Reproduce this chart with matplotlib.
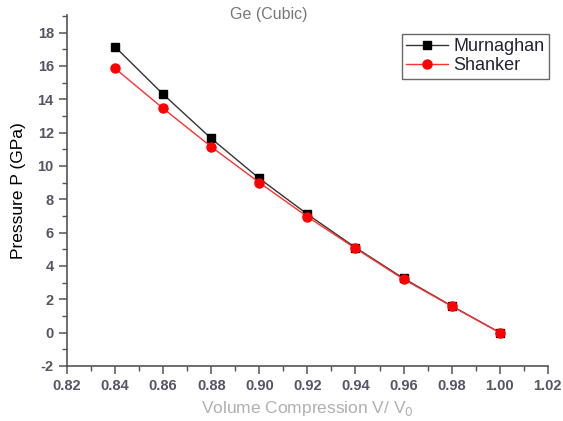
import matplotlib
matplotlib.use("Agg")
import matplotlib.pyplot as plt
from matplotlib.ticker import MultipleLocator

plt.rcParams['font.family'] = ['Liberation Sans', 'DejaVu Sans']
plt.rcParams['axes.unicode_minus'] = False

compression = [0.84, 0.86, 0.88, 0.90, 0.92, 0.94, 0.96, 0.98, 1.00]
murnaghan = [17.15, 14.3, 11.65, 9.25, 7.1, 5.1, 3.25, 1.6, 0.0]
shanker = [15.85, 13.45, 11.15, 9.0, 6.95, 5.05, 3.2, 1.58, 0.0]

fig = plt.figure(figsize=(5.63, 4.21), dpi=100)
ax = fig.add_axes([0.119, 0.131, 0.854, 0.833])

ax.plot(compression, murnaghan, color='#333333', lw=1.0, marker='s', ms=6.2,
        mfc='black', mec='black', label='Murnaghan')
ax.plot(compression, shanker, color='#ff3030', lw=1.0, marker='o', ms=6.5,
        mfc='red', mec='red', label='Shanker')

ax.set_xlim(0.82, 1.02)
ax.set_ylim(-2, 19.05)
ax.xaxis.set_major_locator(MultipleLocator(0.02))
ax.xaxis.set_minor_locator(MultipleLocator(0.01))
ax.yaxis.set_minor_locator(MultipleLocator(1))
ax.set_yticks(range(-2, 19, 2))
ax.xaxis.set_major_formatter(plt.FuncFormatter(lambda v, p: f"{v:.2f}"))

for s in ['top', 'right']:
    ax.spines[s].set_visible(False)
for s in ['left', 'bottom']:
    ax.spines[s].set_color('#555555')
    ax.spines[s].set_linewidth(1.2)

ax.tick_params(axis='both', which='major', direction='out', length=6, width=1.1,
               color='#555555', labelsize=10.5, labelcolor='#555566')
ax.tick_params(axis='both', which='minor', direction='out', length=3.5, width=1.0,
               color='#555555')
for lab in ax.get_xticklabels() + ax.get_yticklabels():
    lab.set_fontweight('bold')

ax.set_xlabel('Volume Compression V/ V$_0$', fontsize=12.5, color='#b0b0b0', labelpad=4)
ax.set_ylabel('Pressure P (GPa)', fontsize=12.5, color='black', labelpad=8)
fig.text(0.478, 0.965, 'Ge (Cubic)', fontsize=11.5, color='#777777',
         ha='center', va='center')

leg = fig.legend(loc='upper left', bbox_to_anchor=(0.714, 0.92), fontsize=13,
                 frameon=True, fancybox=False, edgecolor='#444444',
                 handlelength=2.3, borderpad=0.25, labelspacing=0.1,
                 handletextpad=0.3, borderaxespad=0)
leg.get_frame().set_linewidth(1.0)
for t in leg.get_texts():
    t.set_color('#222233')

fig.savefig('out.png', dpi=100)
